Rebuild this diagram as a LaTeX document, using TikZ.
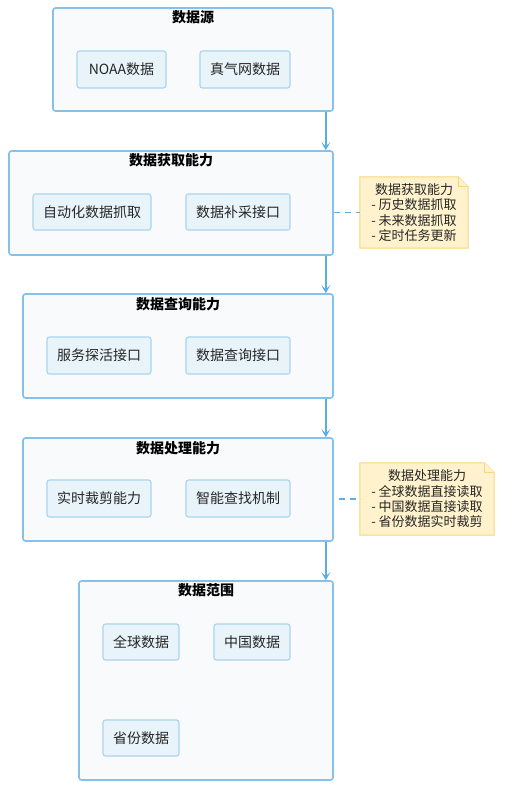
\documentclass[tikz,border=0pt]{standalone}
\usepackage{fontspec}
\setmainfont{Noto Sans CJK SC}
\usetikzlibrary{arrows.meta,calc}
\definecolor{clborder}{HTML}{85C1E9}
\definecolor{clfill}{HTML}{F8FAFC}
\definecolor{ndborder}{HTML}{A9D4F0}
\definecolor{ndfill}{HTML}{E9F4FA}
\definecolor{arrcol}{HTML}{5DADE2}
\definecolor{notefill}{HTML}{FFF2CC}
\definecolor{noteborder}{HTML}{F7D67A}
\tikzset{
  cluster/.style={draw=clborder, fill=clfill, line width=1.6pt, rounded corners=2.5pt, inner sep=0pt},
  ctitle/.style={font=\fontsize{14}{16}\selectfont\bfseries, inner sep=0pt, text=black},
  item/.style={draw=ndborder, fill=ndfill, line width=1.1pt, rounded corners=2.5pt, inner sep=0pt, font=\fontsize{14}{16}\selectfont, text=black!85},
  notetext/.style={font=\fontsize{13}{15.3}\selectfont, align=center, inner sep=0pt, text=black!85},
  notebox/.style={draw=noteborder, fill=notefill, line width=1pt},
  arr/.style={draw=arrcol, line width=1.5pt, -{Stealth[length=8pt,width=9pt,inset=4pt]}},
  link/.style={draw=arrcol, line width=1.1pt, dash pattern=on 6pt off 5pt}
}
% \bx{name}{x1}{y1}{x2}{y2}{style}{text}
\newcommand{\bx}[7]{\node[#6, minimum width={#4-#2}, minimum height={#5-#3}] (#1) at ({(#2+#4)/2},{(#3+#5)/2}) {#7};}
\begin{document}
\begin{tikzpicture}[x=1pt,y=-1pt]
\useasboundingbox[fill=white] (0,0) rectangle (507,786);
% clusters
\bx{c1}{53}{8}{333}{111}{cluster}{}
\bx{c2}{9}{151}{333}{255}{cluster}{}
\bx{c3}{23}{294}{333}{398}{cluster}{}
\bx{c4}{23}{438}{333}{541}{cluster}{}
\bx{c5}{79}{581}{333}{780}{cluster}{}
\node[ctitle] (t1) at ($(c1.north)+(0,10.5)$) {数据源};
\node[ctitle] (t2) at ($(c2.north)+(0,10.5)$) {数据获取能力};
\node[ctitle] (t3) at ($(c3.north)+(0,11)$) {数据查询能力};
\node[ctitle] (t4) at ($(c4.north)+(0,11)$) {数据处理能力};
\node[ctitle] (t5) at ($(c5.north)+(0,10.5)$) {数据范围};
% items
\bx{n1}{77}{51}{166}{88}{item}{NOAA数据}
\bx{n2}{200}{51}{290}{88}{item}{真气网数据}
\bx{n3}{33}{194}{151}{230}{item}{自动化数据抓取}
\bx{n4}{186}{194}{290}{230}{item}{数据补采接口}
\bx{n5}{47}{337}{151}{374}{item}{服务探活接口}
\bx{n6}{186}{337}{290}{374}{item}{数据查询接口}
\bx{n7}{47}{480}{151}{517}{item}{实时裁剪能力}
\bx{n8}{186}{480}{290}{517}{item}{智能查找机制}
\bx{n9}{103}{624}{179}{660}{item}{全球数据}
\bx{n10}{214}{624}{290}{660}{item}{中国数据}
\bx{n11}{103}{720}{179}{756}{item}{省份数据}
% notes
\node[notetext, minimum width=108, minimum height=71] (m1) at (414,212.5) {数据获取能力\\- 历史数据抓取\\- 未来数据抓取\\- 定时任务更新};
\node[notetext, minimum width=134, minimum height=72] (m2) at (427,499) {数据处理能力\\- 全球数据直接读取\\- 中国数据直接读取\\- 省份数据实时裁剪};
\foreach \m in {m1,m2}{
  \path[notebox] (\m.north west) -- ($(\m.north east)+(-10,0)$) -- ($(\m.north east)+(0,10)$) -- (\m.south east) -- (\m.south west) -- cycle;
  \path[notebox] ($(\m.north east)+(-10,0)$) -- ($(\m.north east)+(-10,10)$) -- ($(\m.north east)+(0,10)$);
}
\node[notetext] at (m1) {数据获取能力\\- 历史数据抓取\\- 未来数据抓取\\- 定时任务更新};
\node[notetext] at (m2) {数据处理能力\\- 全球数据直接读取\\- 中国数据直接读取\\- 省份数据实时裁剪};
% links
\draw[link] (c2.east |- m1.west) -- (m1.west);
\draw[link] ($(c4.east |- m2.west)+(5,0)$) -- (m2.west);
% arrows
\draw[arr] ($(c1.south east)+(-8,0)$) -- ($(c2.north east)+(-8,0)$);
\draw[arr] ($(c2.south east)+(-8,0)$) -- ($(c3.north east)+(-8,0)$);
\draw[arr] ($(c3.south east)+(-8,0)$) -- ($(c4.north east)+(-8,0)$);
\draw[arr] ($(c4.south east)+(-8,0)$) -- ($(c5.north east)+(-8,0)$);
\end{tikzpicture}
\end{document}
